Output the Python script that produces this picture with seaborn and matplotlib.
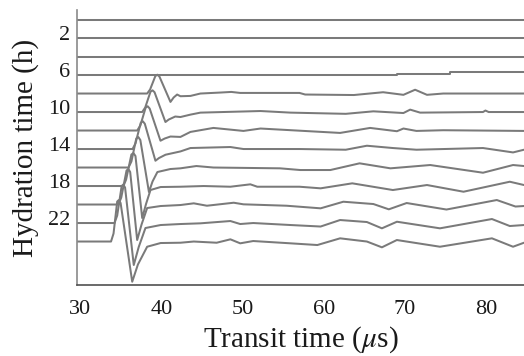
import numpy as np
import pandas as pd
import matplotlib
matplotlib.use("Agg")
import matplotlib.pyplot as plt
import seaborn as sns
from matplotlib.transforms import ScaledTranslation

# ---------------- data ----------------
T_START, T_END = 29.6, 84.65          # recorded transit-time window (us)
hydration_h = [0, 2, 4, 6, 8, 10, 12, 14, 16, 18, 20, 22, 24]
ytick_labels = [2, 6, 10, 14, 18, 22]
xtick_values = [30, 40, 50, 60, 70, 80]

# waveform samples: transit time (us) and signal amplitude (a.u., up = positive)
t_00h = [T_START, T_END]
a_00h = [0, 0]
t_02h = [T_START, T_END]
a_02h = [0, 0]
t_04h = [T_START, T_END]
a_04h = [0, 0]
t_06h = [T_START, 69.0, 69.0, 75.5, 75.5, T_END]
a_06h = [0, 0, 1.3, 1.3, 2.8, 2.8]
t_08h = [T_START, 38.24, 38.6, 39.25, 39.5, 39.75, 41.11, 41.5, 41.93, 42.34, 43.57, 44.80,
         47.3, 48.6, 49.7, 57.0, 57.7, 63.7, 67.3, 69.8, 71.24, 72.7, 74.7, T_END]
a_08h = [0, 0, 4.0, 17.5, 18.8, 17.0, -8.4, -4.0, -1.0, -2.7, -2.4, 0,
         1.0, 1.6, 0.6, 0.6, -1.0, -1.5, 1.3, -1.3, 3.8, -1.3, 0, 0]
t_10h = [T_START, 37.63, 38.0, 38.65, 38.9, 39.15, 40.49, 40.9, 41.7, 42.34, 43.57, 44.8,
         52.2, 55.9, 62.7, 66.1, 69.8, 70.63, 71.86, 79.6, 79.9, 80.3, T_END]
a_10h = [0, 0, 4.5, 20.3, 21.7, 19.8, -10.0, -7.5, -4.5, -5.0, -2.6, -0.6,
         1.0, -0.6, -1.8, 0.7, -1.0, 2.4, -0.6, 0, 1.5, 0, 0]
t_12h = [T_START, 37.01, 37.4, 38.05, 38.3, 38.55, 39.88, 40.4, 41.11, 42.34, 43.57, 46.4,
         50.1, 52.2, 62.0, 65.7, 69.0, 69.8, 71.4, 74.7, T_END]
a_12h = [0, 0, 5.0, 22.8, 24.3, 22.0, -10.2, -8.0, -6.0, -6.4, -1.4, 2.6,
         -0.4, 2.0, -2.4, 2.6, -0.7, 2.0, -0.4, 0.3, -0.4]
t_14h = [T_START, 36.44, 36.8, 37.45, 37.7, 37.95, 39.26, 39.7, 40.5, 42.34, 43.57, 48.49,
         50.1, 57.0, 62.7, 65.3, 68.5, 71.4, 79.6, 83.3, T_END]
a_14h = [0, 0, 5.5, 26.2, 27.8, 25.3, -11.7, -9.0, -5.7, -2.4, 1.0, 2.0,
         0, 0, -0.7, 3.3, 1.0, -0.7, 1.0, -3.4, -0.7]
t_16h = [T_START, 35.94, 36.3, 36.9, 37.15, 37.4, 38.46, 38.9, 39.5, 41.1, 42.34, 44.3,
         46.4, 54.6, 57.1, 60.8, 64.4, 68.2, 73.1, 79.6, 83.3, T_END]
a_16h = [0, 0, 6.0, 29.0, 30.5, 27.5, -24.5, -14.0, -4.5, -1.5, -0.8, 1.5,
         0, -0.8, -2.5, -2.5, 4.2, -0.8, 2.5, -5.2, 2.5, 1.5]
t_18h = [T_START, 35.32, 35.65, 36.3, 36.55, 36.8, 37.63, 38.1, 38.65, 39.9, 42.34, 45.2,
         48.49, 50.95, 51.8, 57.0, 59.6, 63.5, 68.5, 72.7, 77.2, 82.9, T_END]
a_18h = [0, 0, 6.5, 31.5, 33.0, 30.0, -32.0, -18.0, -4.0, -1.0, -0.7, 0,
         -0.7, 1.7, -0.7, -0.7, -2.3, 2.7, -4.0, 1.0, -5.7, 4.3, 1.0]
t_20h = [T_START, 34.71, 35.05, 35.7, 35.93, 36.15, 37.01, 37.55, 38.24, 39.9, 42.34, 43.98,
         45.6, 48.9, 50.1, 55.4, 59.6, 62.4, 66.1, 68.0, 70.2, 75.1, 81.3, 83.6, T_END]
a_20h = [0, 0, 7.0, 34.0, 35.5, 32.5, -35.5, -20.0, -3.5, -1.5, -0.5, 1.2,
         -1.2, 1.8, 0.2, -1.2, -3.8, 2.8, 0.5, -4.8, 1.5, -5.0, 4.5, -2.0, -1.5]
t_22h = [T_START, 34.22, 34.55, 35.1, 35.3, 35.52, 36.59, 37.2, 38.03, 39.9, 42.34, 44.8,
         48.49, 49.7, 51.3, 55.9, 59.6, 62.0, 65.3, 67.15, 69.0, 74.3, 80.7, 82.9, T_END]
a_22h = [0, 0, 7.5, 37.0, 38.5, 35.5, -42.0, -24.0, -5.0, -2.0, -1.0, -0.3,
         2.0, -1.0, 0, -2.0, -3.5, 3.0, 1.0, -5.3, 1.3, -5.3, 4.0, -3.0, -2.0]
t_24h = [T_START, 33.79, 34.1, 34.55, 34.75, 34.97, 36.40, 37.1, 38.24, 39.9, 42.34, 43.98,
         46.8, 48.49, 49.7, 51.3, 55.9, 59.2, 62.0, 65.3, 67.15, 68.99, 74.3, 80.7, 83.3, T_END]
a_24h = [0, 0, 8.0, 40.0, 41.5, 38.5, -40.2, -23.0, -5.2, -1.5, -1.2, 0,
         -1.2, 2.2, -1.8, 0.5, -1.8, -3.5, 3.2, 0, -5.8, 1.5, -5.2, 3.2, -5.2, -1.2]

traces = [(0, t_00h, a_00h), (2, t_02h, a_02h), (4, t_04h, a_04h), (6, t_06h, a_06h),
          (8, t_08h, a_08h), (10, t_10h, a_10h), (12, t_12h, a_12h), (14, t_14h, a_14h),
          (16, t_16h, a_16h), (18, t_18h, a_18h), (20, t_20h, a_20h), (22, t_22h, a_22h),
          (24, t_24h, a_24h)]

AMP_SCALE = 1 / 9.25   # amplitude units -> hours on the stacked axis

rows = []
for h, ts, amps in traces:
    for t, a in zip(ts, amps):
        rows.append({"trace": h, "time": t, "y": h - a * AMP_SCALE})
df = pd.DataFrame(rows)

# ---------------- plot ----------------
sns.set_style("white")
plt.rcParams["font.family"] = ["Liberation Serif", "DejaVu Serif"]
plt.rcParams["mathtext.fontset"] = "stix"

fig = plt.figure(figsize=(5.24, 3.56), dpi=100)
ax = fig.add_axes([77 / 524, 1 - 285 / 356, (524 - 77) / 524, (285 - 10) / 356])

sns.lineplot(data=df, x="time", y="y", units="trace", estimator=None, sort=False,
             color="#7a7a7a", linewidth=1.45, ax=ax, legend=False,
             solid_joinstyle="round", solid_capstyle="round")

ax.set_xlim(T_START, T_END)
ax.set_ylim(28.7, -1.03)

ax.set_xticks(xtick_values)
ax.set_xticklabels([str(v) for v in xtick_values])
ax.set_yticks(ytick_labels)
ax.set_yticklabels([str(v) for v in ytick_labels])

ax.tick_params(axis="x", direction="inout", length=7, width=1, color="#606060",
               labelsize=16, pad=7, labelcolor="#1a1a1a")
ax.tick_params(axis="y", length=0, labelsize=16, pad=5, labelcolor="#1a1a1a")
for lab in ax.get_yticklabels():
    lab.set_transform(lab.get_transform() + ScaledTranslation(0, 5 / 100, fig.dpi_scale_trans))

for s in ["top", "right"]:
    ax.spines[s].set_visible(False)
ax.spines["left"].set_color("#8a8a8a")
ax.spines["left"].set_linewidth(1.2)
ax.spines["bottom"].set_color("#505050")
ax.spines["bottom"].set_linewidth(1.2)

ax.set_xlabel(r"Transit time ($\mu$s)", fontsize=21, color="#1a1a1a", labelpad=4)
ax.set_ylabel("Hydration time (h)", fontsize=21, color="#1a1a1a", labelpad=6)
ax.grid(False)

fig.savefig("out.png", dpi=100)
